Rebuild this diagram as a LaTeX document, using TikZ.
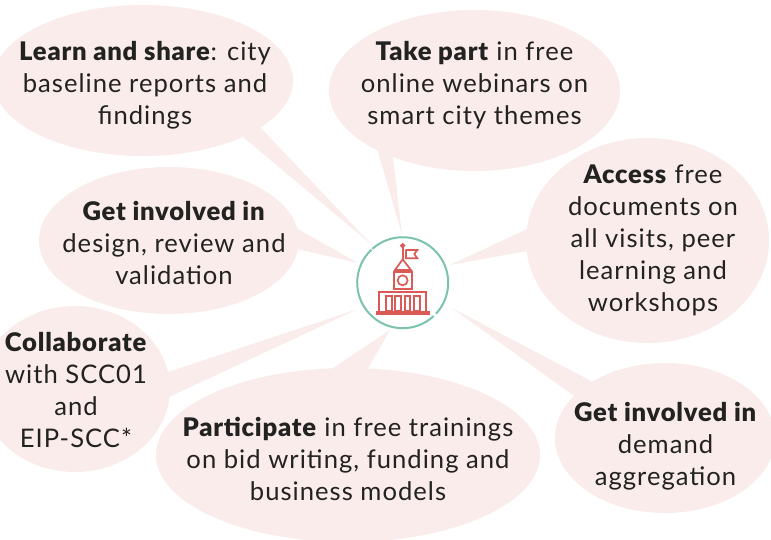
\documentclass[tikz,border=0pt]{standalone}
\usepackage{fontspec}
\setmainfont[LetterSpace=4,BoldFont={Lato Black},BoldFeatures={LetterSpace=3}]{Lato}
\definecolor{bub}{HTML}{F9ECEB}
\definecolor{ring}{HTML}{7DC3AB}
\definecolor{iconred}{HTML}{DB5A55}
\definecolor{ink}{HTML}{222221}
\tikzset{
  bubble/.style={fill=bub,draw=none},
  label/.style={align=center,text=ink,font=\fontsize{25.6}{32}\selectfont,inner sep=0pt},
  iconline/.style={draw=iconred,line width=1.7pt,line join=miter},
  ringarc/.style={draw=ring,line width=2pt},
}
\newcommand{\hd}[1]{\textbf{#1}}
\begin{document}
\begin{tikzpicture}[x=1pt,y=-1pt]
\useasboundingbox (0,0) rectangle (771,539);
\coordinate (hub) at (402.7,282.7);
\begin{scope}
\clip (0,0) rectangle (771,539);
\fill[bubble] (143,80.5) ellipse [x radius=150,y radius=75.5];
\fill[bubble] (474.5,90.5) ellipse [x radius=145.5,y radius=80.5];
\fill[bubble] (647.5,240.5) ellipse [x radius=121.5,y radius=102.5];
\fill[bubble] (169,240.5) ellipse [x radius=130,y radius=73.5];
\fill[bubble] (75,389) ellipse [x radius=95,y radius=83];
\fill[bubble] (348,455) ellipse [x radius=192,y radius=87];
\fill[bubble] (665,438) ellipse [x radius=110,y radius=75];
\fill[bubble] (243,137)--(260,127)--(372,245)--cycle;
\fill[bubble] (296,228)--(297,249)--(358,263)--cycle;
\fill[bubble] (168,372)--(169,397)--(358,309)--cycle;
\fill[bubble] (330,370)--(367,370)--(390,330)--cycle;
\fill[bubble] (377,148)--(393,157)--(402,235)--cycle;
\fill[bubble] (527,229)--(527,251)--(450,265)--cycle;
\fill[bubble] (574,396)--(593,382)--(452,308)--cycle;
\end{scope}
\node[label] (learn) at (145,85) {\hd{Learn and share}: city\\baseline reports and\\findings};
\node[label] (take) at (474.5,85) {\hd{Take part} in free\\online webinars on\\smart city themes};
\node[label] (access) at (653,240) {\hd{Access} free\\documents on\\all visits, peer\\learning and\\workshops};
\node[label] (design) at (174,243) {\hd{Get involved in}\\design, review and\\validation};
\node[label] (collab) at (76,390) {\hd{Collaborate}\\with SCC01\\and\\EIP-SCC*};
\node[label] (part) at (348,459) {\hd{Participate} in free trainings\\on bid writing, funding and\\business models};
\node[label] (demand) at (665.5,446) {\hd{Get involved in}\\demand\\aggregation};
\draw[ringarc] ([shift={(-132:45.5)}]hub) arc [start angle=-132,end angle=43,radius=45.5];
\draw[ringarc] ([shift={(47:45.5)}]hub) arc [start angle=47,end angle=226.5,radius=45.5];
\begin{scope}[shift={(330,210)},x=0.3333pt,y=-0.3333pt]
\draw[iconline] (218,107) circle (5);
\draw[iconline] (218,112)--(218,150);
\draw[iconline] (226,120)--(262,120)--(253,132)--(262,145)--(228,145)--(228,120);
\draw[iconline] (218,148)--(195,180)--(243,180)--cycle;
\draw[iconline] (191,187) rectangle (246,237);
\draw[iconline] (218,211) circle (15);
\draw[iconline] (148,305)--(148,245)--(288,245)--(288,305);
\draw[iconline] (141,305) rectangle (296,313);
\draw[iconline] (168,258) rectangle (185,303);
\draw[iconline] (196,258) rectangle (213,303);
\draw[iconline] (225,258) rectangle (241,303);
\draw[iconline] (253,258) rectangle (270,303);
\end{scope}
\end{tikzpicture}
\end{document}
